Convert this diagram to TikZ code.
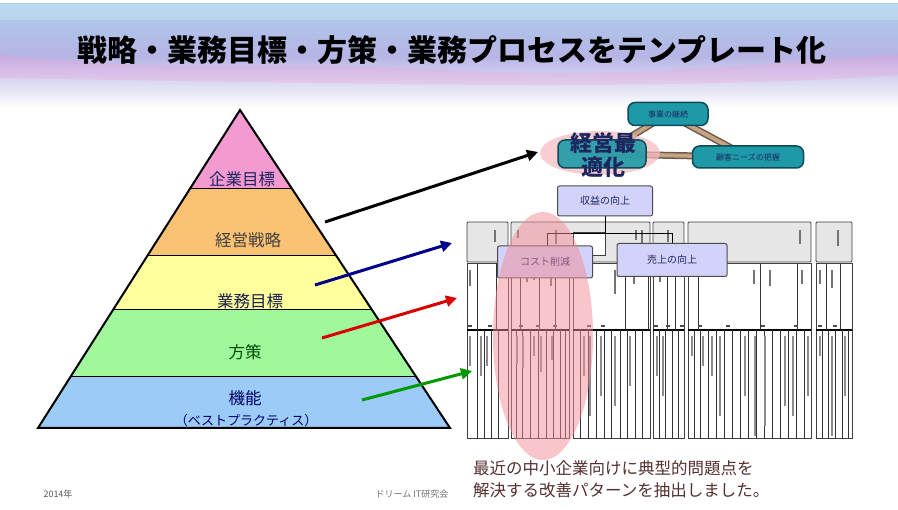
\documentclass[tikz,border=0pt]{standalone}
\usepackage{fontspec}
\newfontfamily\jp{Noto Sans CJK JP}
\usetikzlibrary{arrows.meta,shapes.geometric}
\definecolor{skyA}{HTML}{A9CFEA}
\definecolor{skyB}{HTML}{B7B4E6}
\definecolor{pyrPink}{HTML}{F39AD0}
\definecolor{pyrOrange}{HTML}{FAC272}
\definecolor{pyrYellow}{HTML}{FFFF9C}
\definecolor{pyrGreen}{HTML}{A0F79C}
\definecolor{pyrBlue}{HTML}{9CCBF7}
\definecolor{tealBox}{HTML}{1E9AA6}
\definecolor{tealEdge}{HTML}{0E4A5A}
\definecolor{linkTan}{HTML}{C4A484}
\definecolor{linkDark}{HTML}{6E5A4A}
\definecolor{lav}{HTML}{D2D2FA}
\definecolor{navyText}{HTML}{1E2660}
\definecolor{ovalPink}{HTML}{F28C96}
\definecolor{noteText}{HTML}{553030}
\definecolor{hdrGray}{HTML}{E6E6E6}
\tikzset{
  x=1pt, y=-1pt,
  lbl/.style={font=\jp\fontsize{16.5}{16.5}\selectfont, inner sep=0pt},
  bandline/.style={draw=black, line width=1pt},
  fatarrow/.style={line width=3pt, -{Triangle[length=11pt,width=11pt]}},
  tealnode/.style={draw=tealEdge, line width=1.5pt, fill=tealBox, rounded corners=7pt,
     font=\jp\fontsize{8}{8}\selectfont, text=navyText, inner sep=0pt},
  lavnode/.style={draw=black!70, line width=1pt, fill=lav, rounded corners=2pt,
     font=\jp\fontsize{10}{10}\selectfont, text=navyText, inner sep=0pt},
  tlink/.style={line width=7pt, draw=linkDark},
  tlinkin/.style={line width=4pt, draw=linkTan},
  grp/.style={draw=black!75, line width=0.8pt},
  vl/.style={draw=black!80, line width=0.6pt},
  mk/.style={draw=black!55, line width=1.4pt},
}
\begin{document}
\begin{tikzpicture}
\useasboundingbox (0,0) rectangle (898,510);
\fill[white] (0,0) rectangle (898,510);
% sky band
\shade[top color=skyA, bottom color=white, middle color=skyB] (0,4) rectangle (898,108);
\fill[skyA!60, opacity=0.5] (0,4) rectangle (898,20);
\fill[magenta!40, opacity=0.25] (0,55) .. controls (200,75) and (300,60) .. (450,70) .. controls (650,80) and (780,60) .. (898,55) -- (898,75) .. controls (700,90) and (400,85) .. (0,78) -- cycle;
\node[font=\jp\bfseries\fontsize{30}{30}\selectfont, text=black] (title) at (452,50) {戦略・業務目標・方策・業務プロセスをテンプレート化};

% pyramid
\coordinate (apex) at (240,110);
\coordinate (bl) at (38,428);
\coordinate (br) at (450,428);
\fill[pyrPink]   (240,110) -- (189.8,189) -- (292.2,189) -- cycle;
\fill[pyrOrange] (189.8,189) -- (147.3,256) -- (336.4,256) -- (292.2,189) -- cycle;
\fill[pyrYellow] (147.3,256) -- (113,310) -- (372.1,310) -- (336.4,256) -- cycle;
\fill[pyrGreen]  (113,310) -- (70.4,377) -- (416.3,377) -- (372.1,310) -- cycle;
\fill[pyrBlue]   (70.4,377) -- (38,428) -- (450,428) -- (416.3,377) -- cycle;
\draw[bandline] (189.8,189) -- (292.2,189);
\draw[bandline] (147.3,256) -- (336.4,256);
\draw[bandline] (113,310) -- (372.1,310);
\draw[bandline] (70.4,377) -- (416.3,377);
\draw[line width=2pt, line join=miter] (apex) -- (bl) -- (br) -- cycle;
\node[lbl, text=navyText] (l1) at (242,179) {企業目標};
\node[lbl, text=black!75] (l2) at (248,240) {経営戦略};
\node[lbl, text=navyText!80!black] (l3) at (250,301) {業務目標};
\node[lbl, text=green!30!black] (l4) at (245,352) {方策};
\node[lbl, text=blue!40!black] (l5) at (245,398) {機能};
\node[lbl, font=\jp\fontsize{13}{13}\selectfont, text=blue!40!black] (l6) at (246,421) {（ベストプラクティス）};

% top network
\draw[tlink] (602,154) -- (668,114);
\draw[tlink] (668,114) -- (748,157);
\draw[tlink] (602,154) -- (748,157);
\draw[tlinkin] (602,154) -- (668,114);
\draw[tlinkin] (668,114) -- (748,157);
\draw[tlinkin] (602,154) -- (748,157);
\node[tealnode, minimum width=80pt, minimum height=23pt] (n1) at (668,114) {事業の継続};
\node[tealnode, minimum width=111pt, minimum height=22pt] (n3) at (748,157) {顧客ニーズの把握};
\fill[ovalPink!60, opacity=0.7] (600,153) ellipse (60pt and 22pt);
\node[tealnode, minimum width=88pt, minimum height=28pt, fill opacity=0.9] (n2) at (602,154) {};
\node[font=\jp\bfseries\fontsize{22}{24}\selectfont, text=navyText, align=center, inner sep=0pt] (opt) at (603,155) {経営最\\適化};

% table header (gray)
\foreach \a/\b in {467/508, 511/650, 653/684, 688/811, 816/852}{
  \draw[grp, fill=hdrGray, rounded corners=1pt] (\a,222) rectangle (\b,262);
}
\draw[grp, fill=white] (573,232) rectangle (605,255);
\foreach \x/\l in {495/12, 518/8, 556/14, 636/10, 642/14, 668/12, 800/14, 838/16}{
  \draw[mk] (\x,230) -- (\x,230+\l);
}
% table lower part
\foreach \a/\b in {467/508, 511/569, 573/650, 653/684, 688/811, 816/852}{
  \draw[grp, fill=white] (\a,263) rectangle (\b,438);
  \draw[line width=1.3pt] (\a,330) -- (\b,330);
}
\foreach \x in {477,484,491,498, 516,522,530,538,546,553,560,565, 580,588,596,604,611,620,627,635,642, 659,665,672,678, 694,700,708,716,724,732,740,748,756,764,772,780,788,796,804, 822,828,835,842,848}{
  \draw[vl] (\x,330) -- (\x,438);
}
\foreach \x in {477,496,520,539,555,625,648,667,675,698,760,797,826,840}{
  \draw[vl] (\x,263) -- (\x,330);
}
\foreach \x/\l in {470/30, 481/40, 487/30, 517/28, 523/32, 534/20, 541/36, 552/24, 584/40, 590/80, 601/60, 615/70, 630/50, 657/40, 663/60, 692/20, 703/30, 712/40, 720/80, 745/60, 755/100, 765/90, 785/70, 793/80, 808/60, 820/20, 832/100, 845/60}{
  \draw[draw=black!45, line width=1.2pt] (\x,336) -- (\x,336+\l);
}
\foreach \x/\l in {470/16, 527/12, 534/10, 551/16, 615/24, 634/14, 660/12, 754/14, 770/16, 802/14, 820/14, 832/18}{
  \draw[draw=black!55, line width=1.2pt] (\x,270) -- (\x,270+\l);
}
\foreach \x in {470,490,521,538,555,589,603,656,668,682,700,728,763,796,820,835}{
  \draw[draw=black!70, line width=1.2pt] (\x-2,326) -- (\x+2,326);
}

% boxes
\coordinate (jn) at (605,233);
\draw[line width=0.9pt] (605,214) -- (jn);
\draw[line width=0.9pt] (547,233) -- (672,233);
\draw[line width=0.9pt] (547,233) -- (547,246);
\draw[line width=0.9pt] (672,233) -- (672,243);
\node[lavnode, minimum width=95pt, minimum height=30pt] (rev) at (605,201) {収益の向上};
\node[lavnode, minimum width=95pt, minimum height=32pt] (cost) at (545,262) {コスト削減};
\node[lavnode, minimum width=110pt, minimum height=33pt] (sales) at (672,260) {売上の向上};

% pink oval
\fill[ovalPink, opacity=0.5] (543,336) ellipse (50pt and 124pt);

% arrows
\coordinate (a1s) at (325,222); \coordinate (a1e) at (538,152);
\coordinate (a2s) at (315,285); \coordinate (a2e) at (452,243);
\coordinate (a3s) at (322,338); \coordinate (a3e) at (457,298);
\coordinate (a4s) at (362,400); \coordinate (a4e) at (472,371);
\draw[fatarrow, black] (a1s) -- (a1e);
\draw[fatarrow, blue!55!black] (a2s) -- (a2e);
\draw[fatarrow, red!85!black] (a3s) -- (a3e);
\draw[fatarrow, green!60!black] (a4s) -- (a4e);

% note
\node[font=\jp\fontsize{16.5}{22}\selectfont, text=noteText, align=left, anchor=north west, inner sep=0pt] (note) at (473,460)
  {最近の中小企業向けに典型的問題点を\\解決する改善パターンを抽出しました。};
% footer
\node[font=\jp\fontsize{9}{9}\selectfont, text=black!65, inner sep=0pt] (year) at (58,494) {2014年};
\node[font=\jp\fontsize{9}{9}\selectfont, text=black!55, inner sep=0pt] (org) at (412,494) {ドリーム IT研究会};
\end{tikzpicture}
\end{document}
